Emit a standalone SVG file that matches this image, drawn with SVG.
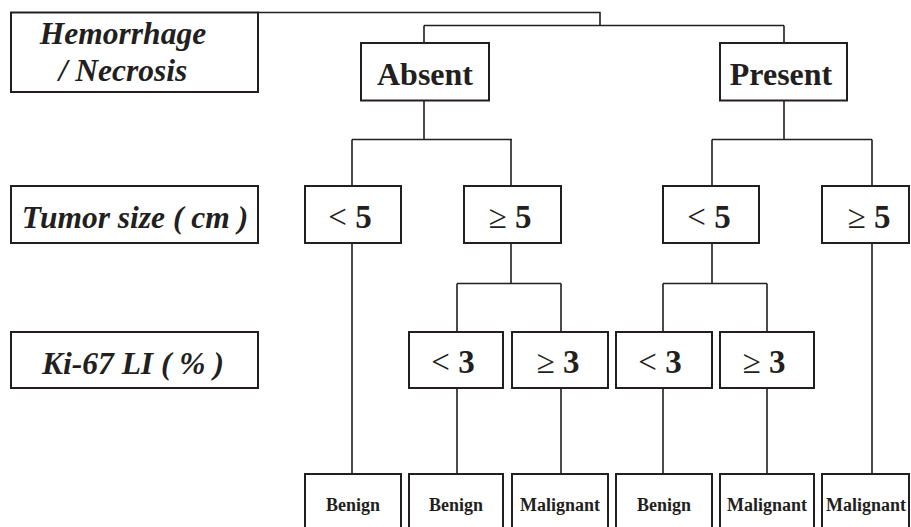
<svg xmlns="http://www.w3.org/2000/svg" width="911" height="527" viewBox="0 0 911 527">
<style>
.box{fill:#fff;stroke:#231f20;stroke-width:2}
.ln{fill:none;stroke:#231f20;stroke-width:1.6}
.t{font-family:"Liberation Serif","Times New Roman",serif;fill:#231f20;text-anchor:middle}
.hd{font-weight:bold;font-style:italic;font-size:31.5px}
.lv{font-weight:bold;font-size:32px}
.nm{font-weight:bold;font-size:33px}
.r{font-weight:normal}
.lf{font-weight:bold;font-size:18px}
</style>
<rect width="911" height="527" fill="#fff"/>
<g id="connectors">
<path class="ln" d="M258 12.5H600V25.5M424 25.5H784M424 25.5V43M784 25.5V43"/>
<path class="ln" d="M424 100V139.5M352 139.5H512M352 139.5V186M511 139.5V186"/>
<path class="ln" d="M784 100V139.5M712 139.5H872M712 139.5V186M872 139.5V186"/>
<path class="ln" d="M511 243V283.5M457 283.5H561M457 283.5V332M561 283.5V332"/>
<path class="ln" d="M712 243V283.5M663 283.5H767M663 283.5V332M767 283.5V332"/>
<path class="ln" d="M352 243V474M872 243V474M457 388V474M561 388V474M663 388V474M767 388V474"/>
</g>
<g id="hemorrhage"><rect class="box" x="11" y="12.5" width="247" height="79.5"/><text class="t hd" x="123" y="44">Hemorrhage</text><text class="t hd" x="123" y="81">/ Necrosis</text></g>
<g id="absent"><rect class="box" x="361" y="43" width="128" height="57.5"/><text class="t lv" x="425" y="85">Absent</text></g>
<g id="present"><rect class="box" x="720" y="43" width="127" height="57.5"/><text class="t lv" x="781" y="85">Present</text></g>
<g id="tumor-size"><rect class="box" x="11" y="186" width="247" height="57"/><text class="t hd" x="135" y="228">Tumor size ( cm )</text></g>
<g id="a-lt5"><rect class="box" x="305" y="186" width="96" height="57"/><text class="t nm" x="350" y="228"><tspan class="r">&lt;</tspan> 5</text></g>
<g id="a-ge5"><rect class="box" x="464" y="186" width="97" height="57"/><text class="t nm" x="510" y="228"><tspan class="r">≥</tspan> 5</text></g>
<g id="p-lt5"><rect class="box" x="663" y="186" width="96" height="57"/><text class="t nm" x="709" y="228"><tspan class="r">&lt;</tspan> 5</text></g>
<g id="p-ge5"><rect class="box" x="822" y="186" width="87" height="57"/><text class="t nm" x="869" y="228"><tspan class="r">≥</tspan> 5</text></g>
<g id="ki67"><rect class="box" x="11" y="332" width="247" height="56"/><text class="t hd" x="133" y="374">Ki-67 LI ( % )</text></g>
<g id="a-lt3"><rect class="box" x="409" y="332" width="94" height="56"/><text class="t nm" x="453" y="373"><tspan class="r">&lt;</tspan> 3</text></g>
<g id="a-ge3"><rect class="box" x="512" y="332" width="96" height="56"/><text class="t nm" x="558" y="373"><tspan class="r">≥</tspan> 3</text></g>
<g id="p-lt3"><rect class="box" x="616" y="332" width="96" height="56"/><text class="t nm" x="660" y="373"><tspan class="r">&lt;</tspan> 3</text></g>
<g id="p-ge3"><rect class="box" x="720" y="332" width="94" height="56"/><text class="t nm" x="764" y="373"><tspan class="r">≥</tspan> 3</text></g>
<g id="leaf1"><rect class="box" x="305" y="474" width="96" height="60"/><text class="t lf" x="353" y="511">Benign</text></g>
<g id="leaf2"><rect class="box" x="409" y="474" width="94" height="60"/><text class="t lf" x="456" y="511">Benign</text></g>
<g id="leaf3"><rect class="box" x="512" y="474" width="96" height="60"/><text class="t lf" x="560" y="511">Malignant</text></g>
<g id="leaf4"><rect class="box" x="616" y="474" width="96" height="60"/><text class="t lf" x="664" y="511">Benign</text></g>
<g id="leaf5"><rect class="box" x="720" y="474" width="94" height="60"/><text class="t lf" x="767" y="511">Malignant</text></g>
<g id="leaf6"><rect class="box" x="822" y="474" width="87" height="60"/><text class="t lf" x="866" y="511">Malignant</text></g>
</svg>
